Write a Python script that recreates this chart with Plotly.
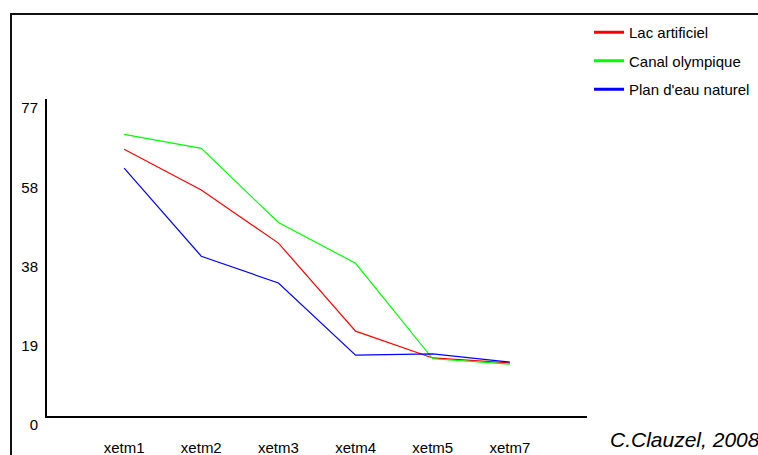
import plotly.graph_objects as go

categories = ["xetm1", "xetm2", "xetm3", "xetm4", "xetm5", "xetm7"]
lac_artificiel = [64.8, 54.9, 42.0, 20.6, 14.1, 12.9]
canal_olympique = [68.4, 65.0, 47.0, 37.1, 13.9, 12.6]
plan_eau_naturel = [60.2, 38.8, 32.3, 14.8, 15.1, 13.1]
series_names = ["Lac artificiel", "Canal olympique", "Plan d'eau naturel"]
series_colors = ["#FF0000", "#00FF00", "#0000FF"]
y_tickvals = [0, 19.25, 38.5, 57.75, 77]
y_ticktext = ["0", "19", "38", "58", "77"]
credit = "C.Clauzel, 2008"

FONT = "Liberation Sans, Arial, sans-serif"

fig = go.Figure()
for name, vals, col in zip(series_names,
                           [lac_artificiel, canal_olympique, plan_eau_naturel],
                           series_colors):
    fig.add_trace(go.Scatter(x=categories, y=vals, mode="lines", name=name,
                             line=dict(color=col, width=1.2), showlegend=False,
                             hoverinfo="x+y+name"))
# legend entries (thicker line sample like the reference)
for i, (name, col) in enumerate(zip(series_names, series_colors)):
    fig.add_trace(go.Scatter(x=[None], y=[None], mode="lines", name=name,
                             line=dict(color=col, width=3), legendgroup=f"g{i}",
                             showlegend=True))

L, R, T, B = 47, 171, 99, 39
W, H = 758, 455
pw, ph = W - L - R, H - T - B

def px_x(x):
    return (x - L) / pw

def px_y(y):
    return (H - B - y) / ph

fig.add_shape(type="rect", xref="paper", yref="paper",
              x0=px_x(11), x1=px_x(800), y0=px_y(500), y1=px_y(14),
              line=dict(color="#111111", width=2), fillcolor="rgba(0,0,0,0)",
              layer="below")

fig.add_annotation(text=credit, xref="paper", yref="paper",
                   x=px_x(608), y=px_y(439), xanchor="left", yanchor="middle",
                   showarrow=False,
                   font=dict(family=FONT, size=21, color="#000000", style="italic"))

fig.update_layout(
    width=W, height=H,
    margin=dict(l=L, r=R, t=T, b=B, pad=0, autoexpand=False),
    paper_bgcolor="white", plot_bgcolor="white",
    font=dict(family=FONT, size=15, color="#000000"),
    legend=dict(x=px_x(589), y=px_y(16), xanchor="left", yanchor="top",
                xref="paper", yref="paper",
                bgcolor="rgba(0,0,0,0)", borderwidth=0,
                tracegroupgap=6, font=dict(size=15, family=FONT)),
    xaxis=dict(type="category", range=[-1, 6], showgrid=False, zeroline=False,
               showline=True, linecolor="#000000", linewidth=2,
               ticks="", ticklabelstandoff=17, fixedrange=True, automargin=False),
    yaxis=dict(range=[0, 77], showgrid=False, zeroline=False,
               showline=True, linecolor="#000000", linewidth=2,
               tickvals=y_tickvals, ticktext=y_ticktext,
               ticks="", ticklabelstandoff=4, ticklabelshift=9,
               fixedrange=True, automargin=False),
)

fig.write_html("out.html", config={"displayModeBar": False},
               post_script="document.body.style.margin='0';document.body.style.overflow='hidden';")
